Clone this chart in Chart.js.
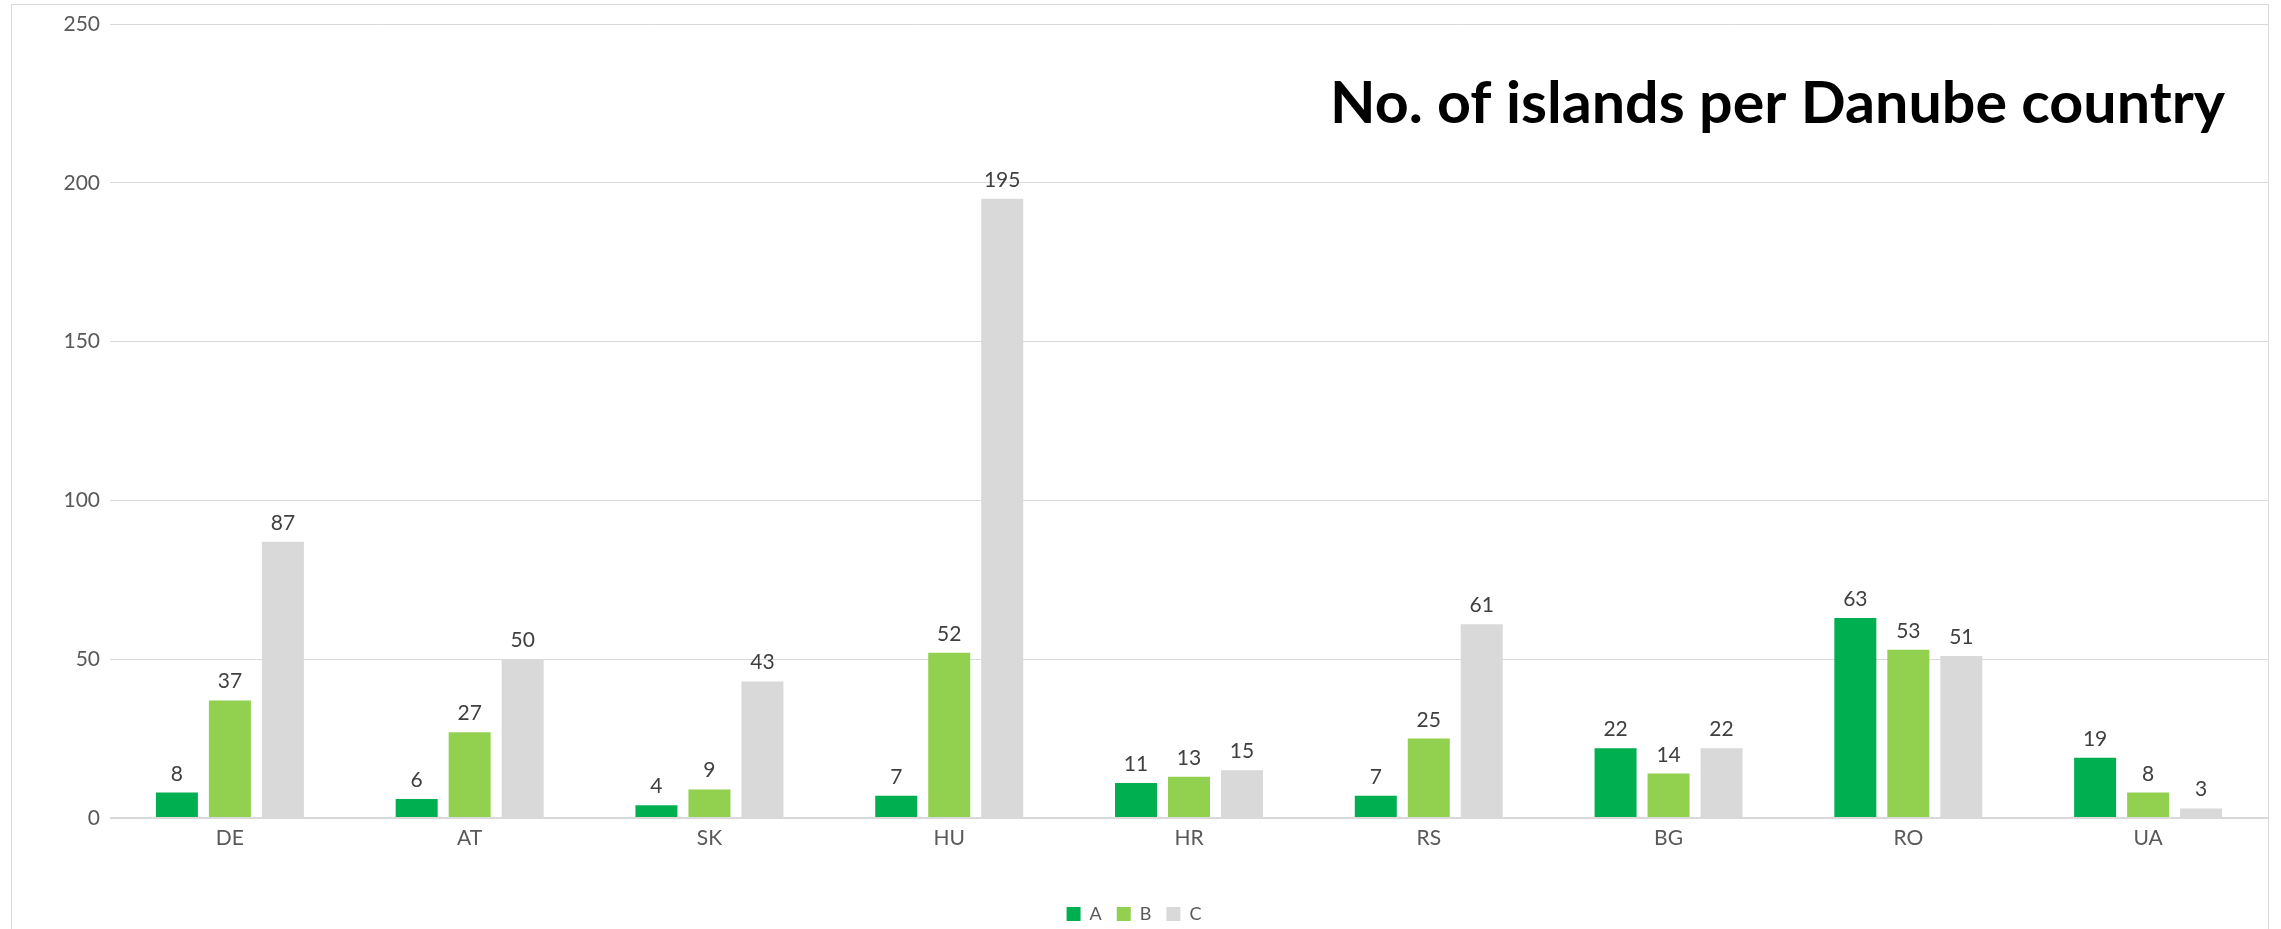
<!DOCTYPE html>
<html>
<head>
<meta charset="utf-8">
<script src="https://cdn.jsdelivr.net/npm/chart.js@4.4.1/dist/chart.umd.min.js"></script>
<style>
  html, body { margin: 0; padding: 0; background: #fff; overflow: hidden; }
  #wrap { position: absolute; left: 0; top: 0; width: 2281px; height: 929px; }
  #frame { position: absolute; left: 11px; top: 4px; width: 2258px; height: 1000px; border: 1px solid #d9d9d9; pointer-events: none; box-sizing: border-box; }
</style>
</head>
<body>
<div id="wrap"><canvas id="c"></canvas></div>
<div id="frame"></div>
<script>
const categories = ["DE", "AT", "SK", "HU", "HR", "RS", "BG", "RO", "UA"];
const seriesNames = ["A", "B", "C"];
const seriesA = [8, 6, 4, 7, 11, 7, 22, 63, 19];
const seriesB = [37, 27, 9, 52, 13, 25, 14, 53, 8];
const seriesC = [87, 50, 43, 195, 15, 61, 22, 51, 3];
const yTicks = [0, 50, 100, 150, 200, 250];
const chartTitle = "No. of islands per Danube country";
const colors = ["#00B050", "#92D050", "#D9D9D9"];

const FONT = "Lato, 'Open Sans', sans-serif";

const valueLabels = {
  id: 'valueLabels',
  afterDatasetsDraw(chart) {
    const ctx = chart.ctx;
    ctx.save();
    ctx.font = "21px " + FONT;
    ctx.fillStyle = "#404040";
    ctx.textAlign = "center";
    ctx.textBaseline = "alphabetic";
    chart.data.datasets.forEach((ds, i) => {
      const meta = chart.getDatasetMeta(i);
      meta.data.forEach((el, j) => {
        ctx.fillText(String(ds.data[j]), el.x, el.y - 12);
      });
    });
    ctx.restore();
  }
};

const titlePlugin = {
  id: 'rightTitle',
  afterDraw(chart) {
    const ctx = chart.ctx;
    ctx.save();
    ctx.font = "bold 57px " + FONT;
    ctx.fillStyle = "#000";
    ctx.textAlign = "right";
    ctx.textBaseline = "alphabetic";
    const w = ctx.measureText(chartTitle).width;
    const sx = 895 / w;
    ctx.translate(2225, 123);
    ctx.scale(sx, 1);
    ctx.fillText(chartTitle, 0, 0);
    ctx.restore();
  }
};

new Chart(document.getElementById('c'), {
  type: 'bar',
  data: {
    labels: categories,
    datasets: [
      { label: seriesNames[0], data: seriesA, backgroundColor: colors[0] },
      { label: seriesNames[1], data: seriesB, backgroundColor: colors[1] },
      { label: seriesNames[2], data: seriesC, backgroundColor: colors[2] }
    ]
  },
  options: {
    responsive: true,
    maintainAspectRatio: false,
    animation: false,
    devicePixelRatio: 1,
    layout: { padding: { left: 0, right: 13, top: 24, bottom: -4 } },
    datasets: { bar: { categoryPercentage: 0.663, barPercentage: 0.7925, borderWidth: 0 } },
    scales: {
      x: {
        grid: { display: false },
        border: { display: false },
        ticks: { color: "#595959", font: { family: FONT, size: 21 }, padding: 0 },
        afterFit(scale) { scale.height = 72; }
      },
      y: {
        min: 0, max: 250,
        afterBuildTicks(scale) { scale.ticks = yTicks.map(v => ({ value: v })); },
        grid: {
          color: "#d9d9d9",
          lineWidth: (ctx) => (ctx.tick && ctx.tick.value === 0 ? 2 : 1),
          drawTicks: false
        },
        border: { display: false },
        ticks: { color: "#595959", font: { family: FONT, size: 21 }, padding: 10 },
        afterFit(scale) { scale.width = 110; }
      }
    },
    plugins: {
      legend: {
        position: 'bottom',
        labels: {
          boxWidth: 14, boxHeight: 14, padding: 15,
          color: "#595959",
          font: { family: FONT, size: 18 }
        }
      },
      title: { display: false },
      tooltip: { enabled: false }
    }
  },
  plugins: [valueLabels, titlePlugin]
});
</script>
</body>
</html>
